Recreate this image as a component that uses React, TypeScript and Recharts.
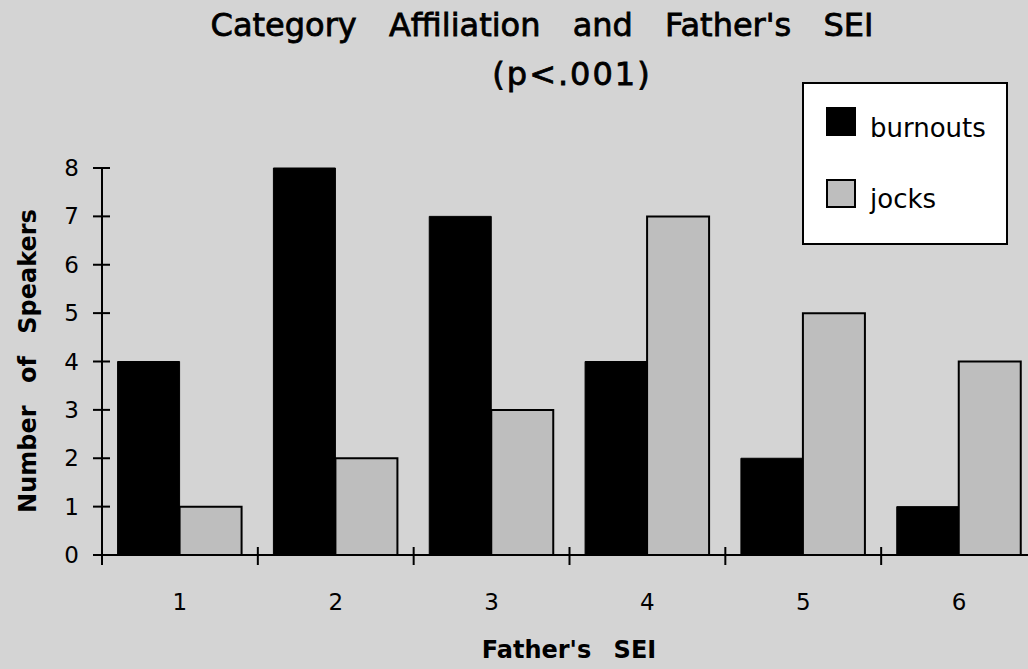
import React from "react";
import { BarChart, Bar, XAxis, YAxis } from "recharts";

const categories = ["1", "2", "3", "4", "5", "6"];
const burnouts = [4, 8, 7, 4, 2, 1];
const jocks = [1, 2, 3, 7, 5, 4];
const yTicks = [0, 1, 2, 3, 4, 5, 6, 7, 8];

const data = categories.map((c, i) => ({ sei: c, burnouts: burnouts[i], jocks: jocks[i] }));

const W = 1037;
const H = 669;
const PLOT_LEFT = 102;
const Y_AXIS_W = 60;
const X_AXIS_H = 114;
const AXIS_Y = H - X_AXIS_H;
const BAND = (W - PLOT_LEFT) / categories.length;
const FONT = "'DejaVu Sans', sans-serif";

const XTick = (props: any) => {
  const { x, payload } = props;
  const bx = x - BAND / 2;
  return (
    <g>
      <line x1={bx} x2={bx} y1={AXIS_Y - 8} y2={AXIS_Y + 10} stroke="#000" strokeWidth={2} />
      <text x={x} y={AXIS_Y + 55} textAnchor="middle" fontFamily={FONT} fontSize={23} fill="#000">
        {payload.value}
      </text>
    </g>
  );
};

const YTick = (props: any) => {
  const { y, payload } = props;
  return (
    <g>
      <line x1={PLOT_LEFT - 9} x2={PLOT_LEFT + 8} y1={y} y2={y} stroke="#000" strokeWidth={2} />
      <text x={PLOT_LEFT - 23} y={y + 8} textAnchor="end" fontFamily={FONT} fontSize={23} fill="#000">
        {payload.value}
      </text>
    </g>
  );
};

export default function App() {
  return (
    <div style={{ position: "relative", width: 1028, height: 669, overflow: "hidden", background: "#d4d4d4" }}>
      <style>{`body{margin:0}`}</style>
      <BarChart
        width={W}
        height={H}
        data={data}
        margin={{ top: 168, right: 0, left: PLOT_LEFT - Y_AXIS_W, bottom: 0 }}
        barCategoryGap="10%"
        barGap={0}
      >
        <XAxis
          dataKey="sei"
          tickLine={false}
          axisLine={{ stroke: "#000", strokeWidth: 2 }}
          tick={<XTick />}
          height={X_AXIS_H}
          interval={0}
        />
        <YAxis
          domain={[0, 8]}
          ticks={yTicks}
          width={Y_AXIS_W}
          tickLine={false}
          axisLine={{ stroke: "#000", strokeWidth: 2 }}
          tick={<YTick />}
          interval={0}
        />
        <Bar dataKey="burnouts" fill="#000" stroke="#000" strokeWidth={1} isAnimationActive={false} />
        <Bar dataKey="jocks" fill="#bebebe" stroke="#000" strokeWidth={2} isAnimationActive={false} />
      </BarChart>
      <svg width={1028} height={669} style={{ position: "absolute", left: 0, top: 0, pointerEvents: "none" }}>
        <g fontFamily={FONT} fill="#000">
          <text x={542} y={36} textAnchor="middle" fontSize={32} stroke="#000" strokeWidth={0.8} style={{ wordSpacing: 22 }}>
            Category Affiliation and Father's SEI
          </text>
          <text x={572} y={85} textAnchor="middle" fontSize={32} stroke="#000" strokeWidth={0.8} style={{ letterSpacing: 2 }}>
            (p&lt;.001)
          </text>
          <text x={569} y={658} textAnchor="middle" fontSize={24} fontWeight="bold" style={{ wordSpacing: 14 }}>
            Father's SEI
          </text>
          <text
            x={36}
            y={361}
            textAnchor="middle"
            fontSize={24}
            fontWeight="bold"
            transform="rotate(-90 36 361)"
            style={{ wordSpacing: 14 }}
          >
            Number of Speakers
          </text>
          <rect x={803} y={83} width={204} height={161} fill="#fff" stroke="#000" strokeWidth={2} />
          <rect x={826} y={107} width={30} height={29} fill="#000" />
          <rect x={827} y={180} width={28} height={27} fill="#bebebe" stroke="#000" strokeWidth={2} />
          <text x={870} y={137} fontSize={26}>burnouts</text>
          <text x={870} y={208} fontSize={26}>jocks</text>
        </g>
      </svg>
    </div>
  );
}
